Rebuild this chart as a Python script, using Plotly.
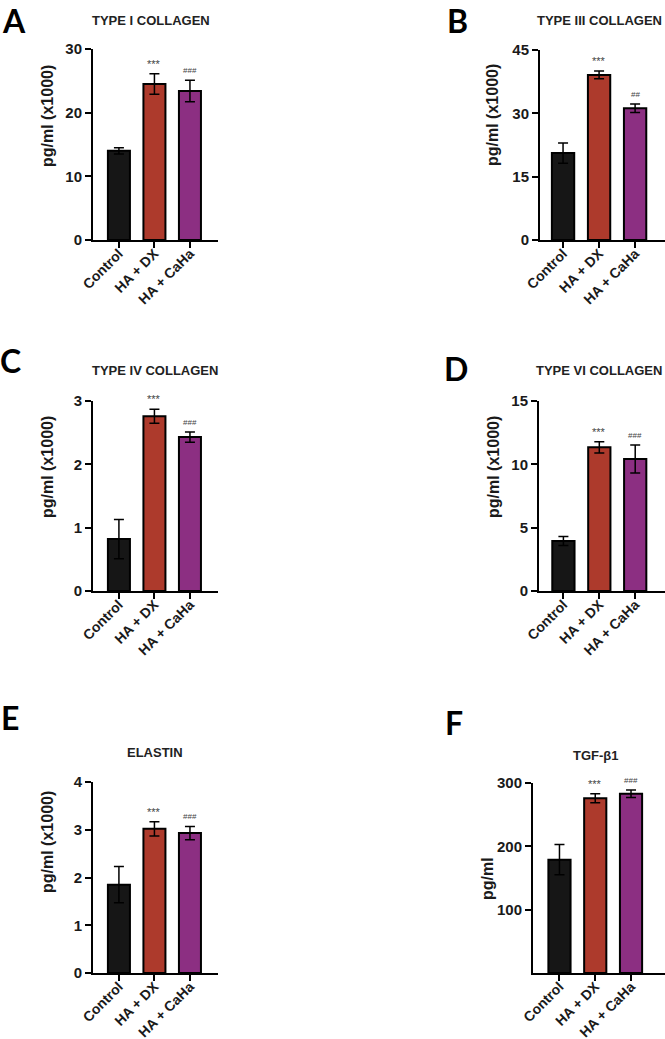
import plotly.graph_objects as go

W, H = 665, 1039

categories = ["Control", "HA + DX", "HA + CaHa"]
bar_colors = ["#161616", "#ad3a2c", "#8c2f82"]

# Panel A - Type I collagen (pg/ml x1000)
col1_mean = [14.0, 24.5, 23.4]
col1_err = [0.5, 1.6, 1.7]
col1_sig = ["", "***", "###"]
col1_ticks = [0, 10, 20, 30]

# Panel B - Type III collagen
col3_mean = [20.6, 39.1, 31.2]
col3_err = [2.4, 0.9, 1.0]
col3_sig = ["", "***", "##"]
col3_ticks = [0, 15, 30, 45]

# Panel C - Type IV collagen
col4_mean = [0.82, 2.76, 2.43]
col4_err = [0.31, 0.11, 0.08]
col4_sig = ["", "***", "###"]
col4_ticks = [0, 1, 2, 3]

# Panel D - Type VI collagen
col6_mean = [3.95, 11.34, 10.42]
col6_err = [0.35, 0.45, 1.1]
col6_sig = ["", "***", "###"]
col6_ticks = [0, 5, 10, 15]

# Panel E - Elastin
elastin_mean = [1.85, 3.02, 2.93]
elastin_err = [0.38, 0.15, 0.14]
elastin_sig = ["", "***", "###"]
elastin_ticks = [0, 1, 2, 3, 4]

# Panel F - TGF-beta1 (pg/ml)
tgf_mean = [179, 276, 283]
tgf_err = [24, 7, 6]
tgf_sig = ["", "***", "###"]
tgf_ticks = [100, 200, 300]

panels = [
    dict(letter="A", title="TYPE I COLLAGEN", ytitle="pg/ml (x1000)", mean=col1_mean, err=col1_err,
         sig=col1_sig, ticks=col1_ticks, ymax=30,
         dom=(93, 218, 49, 240), xr=(-0.73, 2.79), let_xy=(14, 20), tit_xy=(151, 20), tit_anchor="center",
         yt_xy=(47, 116)),
    dict(letter="B", title="TYPE III COLLAGEN", ytitle="pg/ml (x1000)", mean=col3_mean, err=col3_err,
         sig=col3_sig, ticks=col3_ticks, ymax=45,
         dom=(540, 665, 50, 240), xr=(-0.64, 2.83), let_xy=(457, 20), tit_xy=(664, 20), tit_anchor="right",
         yt_xy=(492, 115)),
    dict(letter="C", title="TYPE IV COLLAGEN", ytitle="pg/ml (x1000)", mean=col4_mean, err=col4_err,
         sig=col4_sig, ticks=col4_ticks, ymax=3,
         dom=(93, 218, 401, 591), xr=(-0.73, 2.79), let_xy=(11, 361), tit_xy=(155, 370), tit_anchor="center",
         yt_xy=(47, 467)),
    dict(letter="D", title="TYPE VI COLLAGEN", ytitle="pg/ml (x1000)", mean=col6_mean, err=col6_err,
         sig=col6_sig, ticks=col6_ticks, ymax=15,
         dom=(539, 665, 401, 591), xr=(-0.68, 2.83), let_xy=(456, 368), tit_xy=(664, 370), tit_anchor="right",
         yt_xy=(493, 467)),
    dict(letter="E", title="ELASTIN", ytitle="pg/ml (x1000)", mean=elastin_mean, err=elastin_err,
         sig=elastin_sig, ticks=elastin_ticks, ymax=4,
         dom=(93, 218, 782, 973), xr=(-0.73, 2.79), let_xy=(10, 717), tit_xy=(155, 752), tit_anchor="center",
         yt_xy=(47, 842)),
    dict(letter="F", title="TGF-β1", ytitle="pg/ml", mean=tgf_mean, err=tgf_err,
         sig=tgf_sig, ticks=tgf_ticks, ymax=300,
         dom=(533, 665, 783, 973), xr=(-0.74, 2.95), let_xy=(454, 722), tit_xy=(596, 755), tit_anchor="center",
         yt_xy=(487, 879)),
]


def px(x):
    return x / W


def py(y):
    return 1 - y / H


FONT = "Liberation Sans"
fig = go.Figure()
annotations = []
layout = {}

for i, p in enumerate(panels, start=1):
    xa = "x" if i == 1 else f"x{i}"
    ya = "y" if i == 1 else f"y{i}"
    xkey = "xaxis" if i == 1 else f"xaxis{i}"
    ykey = "yaxis" if i == 1 else f"yaxis{i}"
    x0, x1, ytop, ybot = p["dom"]

    fig.add_trace(go.Bar(
        x=categories, y=p["mean"], width=0.62,
        marker=dict(color=bar_colors, line=dict(color="black", width=2)),
        error_y=dict(type="data", array=p["err"], visible=True, color="black", thickness=1.5, width=5),
        xaxis=xa, yaxis=ya, showlegend=False,
    ))

    layout[xkey] = dict(
        domain=[px(x0), min(px(x1), 1.0)], anchor=ya, range=list(p["xr"]), automargin=False,
        showline=True, linewidth=2, linecolor="black", ticks="outside", ticklen=6, tickwidth=2,
        tickcolor="black", tickangle=-45, showgrid=False, zeroline=False, ticklabelstandoff=-8,
        tickfont=dict(family=FONT, size=14, color="#1a1a1a", weight="bold"),
    )
    layout[ykey] = dict(
        domain=[py(ybot), py(ytop)], anchor=xa, range=[0, p["ymax"]], automargin=False,
        tickvals=p["ticks"], ticktext=[str(t) for t in p["ticks"]],
        showline=True, linewidth=2, linecolor="black", ticks="outside", ticklen=6, tickwidth=2,
        tickcolor="black", showgrid=False, zeroline=False,
        tickfont=dict(family=FONT, size=15, color="#1a1a1a", weight="bold"),
    )

    # significance marks
    for c, m, e, s in zip(categories, p["mean"], p["err"], p["sig"]):
        if s:
            annotations.append(dict(
                x=c, y=m + e, xref=xa, yref=ya, text=s, showarrow=False,
                yanchor="bottom", yshift=2 if s == "***" else 3,
                font=dict(family=FONT, size=11 if s == "***" else 8, color="#444444"),
            ))

    # panel letter
    lx, ly = p["let_xy"]
    annotations.append(dict(
        x=px(lx), y=py(ly), xref="paper", yref="paper", text=p["letter"], showarrow=False,
        xanchor="center", yanchor="middle",
        font=dict(family="Lato", size=32, color="black", weight="bold"),
    ))
    # panel title
    tx, ty = p["tit_xy"]
    annotations.append(dict(
        x=px(tx), y=py(ty), xref="paper", yref="paper", text=p["title"], showarrow=False,
        xanchor=p["tit_anchor"], yanchor="middle",
        font=dict(family=FONT, size=13, color="#222222", weight="bold"),
    ))
    # y-axis title
    yx, yy = p["yt_xy"]
    annotations.append(dict(
        x=px(yx), y=py(yy), xref="paper", yref="paper", text=p["ytitle"], showarrow=False,
        textangle=-90, xanchor="center", yanchor="middle",
        font=dict(family=FONT, size=16, color="#1a1a1a", weight="bold"),
    ))

fig.update_layout(
    width=W, height=H, margin=dict(l=0, r=0, t=0, b=0, autoexpand=False),
    paper_bgcolor="white", plot_bgcolor="white",
    annotations=annotations, bargap=0.3,
    **layout,
)

fig.write_html("out.html")
